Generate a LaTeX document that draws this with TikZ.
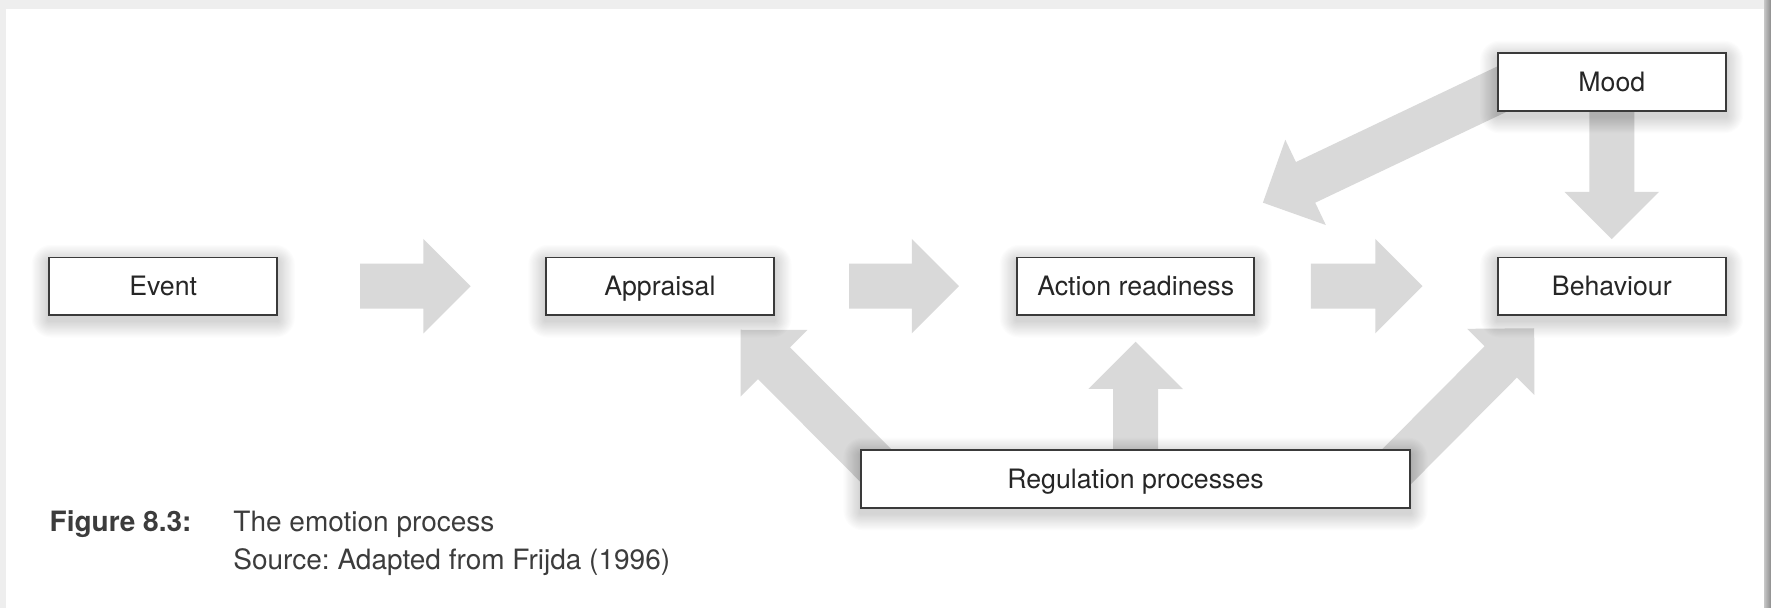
\documentclass[tikz,border=0pt]{standalone}
\usepackage{fontspec}
\setmainfont{TeX Gyre Heros}
\frenchspacing
\usetikzlibrary{calc,backgrounds}
\definecolor{FlowGrey}{HTML}{D9D9D9}
\definecolor{BoxLine}{HTML}{3A3A3A}
\definecolor{InkMain}{HTML}{262626}
\definecolor{PageGrey}{HTML}{EEEEEE}
\tikzset{every node/.style={text=InkMain},
 stage/.style={draw=BoxLine,line width=.8pt,fill=white,minimum width=114pt,
  minimum height=28.75pt,inner xsep=10pt,text height=9.6pt,text depth=0pt,
  font=\fontsize{13.35}{16}\selectfont},
 haze/.style={fill=black,opacity=.012},
 flow/.style={fill=FlowGrey,draw=none,to path={let
  \p1=($(\tikztotarget)-(\tikztostart)$),\n1={atan2(\y1,\x1)},
  \n2={veclen(\x1,\y1)-23.6pt} in
  ($(\tikztostart)+(\n1+90:11.25pt)$) -- ++(\n1:\n2) -- ++(\n1+90:12.35pt)
  -- (\tikztotarget)
  -- ($(\tikztotarget)+(\n1+180:23.6pt)+(\n1-90:23.6pt)$)
  -- ++(\n1+90:12.35pt) -- ++(\n1+180:\n2) -- cycle}}}
\begin{document}
\begin{tikzpicture}[x=.5pt,y=-.5pt,
 caption/.style={anchor=base west,inner sep=0pt,text=InkMain!90,
  font=\fontsize{14}{17}\selectfont}]
\useasboundingbox (0,0) rectangle (1771,608);
% Stages of the process, one row, mood above and regulation below.
\node[stage] (ev) at (163.2,286.2) {Event};
\node[stage] (ap) at (659.9,286.2) {Appraisal};
\node[stage] (ar) at (1135.7,286.2) {Action readiness};
\node[stage] (be) at (1611.8,286.2) {Behaviour};
\node[stage] (mo) at (1611.8,82) {Mood};
\node[stage,minimum width=274.5pt] (rp) at (1135.5,479) {Regulation processes};
\node[caption,font=\fontsize{14}{17}\selectfont\bfseries] (fig) at (49.3,531.7)
 {Figure 8.3:};
\node[caption] (ttl) at (233,531.7) {The emotion process};
\node[caption] (src) at (233,569.3) {Source: Adapted from Frijda (1996)};
% Arrow ends; the tails of the feedback arrows hide behind the boxes.
\coordinate (h1) at ($(ev.east)+(82,0)$);
\coordinate (t1) at ($(ap.west)+(-74.5,0)$);
\coordinate (h2) at ($(ap.east)+(74.5,0)$);
\coordinate (t2) at ($(ar.west)+(-57.5,0)$);
\coordinate (h3) at ($(ar.east)+(56,0)$);
\coordinate (t3) at ($(be.west)+(-74.5,0)$);
\coordinate (rpA) at ($(rp.west)+(29,0)$);
\coordinate (apR) at ($(ap.south east)+(-34,14)$);
\coordinate (rpB) at ($(rp.north)+(0,20)$);
\coordinate (arR) at ($(ar.south)+(0,26)$);
\coordinate (rpC) at ($(rp.east)+(-26.5,0)$);
\coordinate (beR) at ($(be.south west)+(37.2,12.5)$);
\coordinate (moA) at ($(mo.west)+(22,-1)$);
\coordinate (arM) at ($(ar.north east)+(8,-54)$);
\coordinate (moB) at ($(mo.south)+(0,-15)$);
\coordinate (beM) at ($(be.north)+(0,-17.5)$);
\begin{scope}[on background layer]
\fill[PageGrey] (0,0) rectangle (1771,608);
\fill[white] (6,9) rectangle (1764,608);
\shade[left color=black!22,right color=black!45] (1764,0) rectangle (1771,608);
\foreach \a/\b in {h1/t1,h2/t2,h3/t3,rpA/apR,rpB/arR,rpC/beR,moA/arM,moB/beM}
 {\path[flow] (\a) to (\b);}
% Soft shadow: stacked faint rectangles, growing outwards.
\foreach \n in {ev,ap,ar,be,mo,rp}
 \foreach \k in {1,...,14}
  {\fill[haze,rounded corners=\k*0.7pt]
   ($(\n.south west)+(-\k*0.6pt,-\k*0.6pt-2.5pt)$)
   rectangle ($(\n.north east)+(\k*0.6pt,\k*0.6pt-2.5pt)$);}
\end{scope}
\end{tikzpicture}
\end{document}
